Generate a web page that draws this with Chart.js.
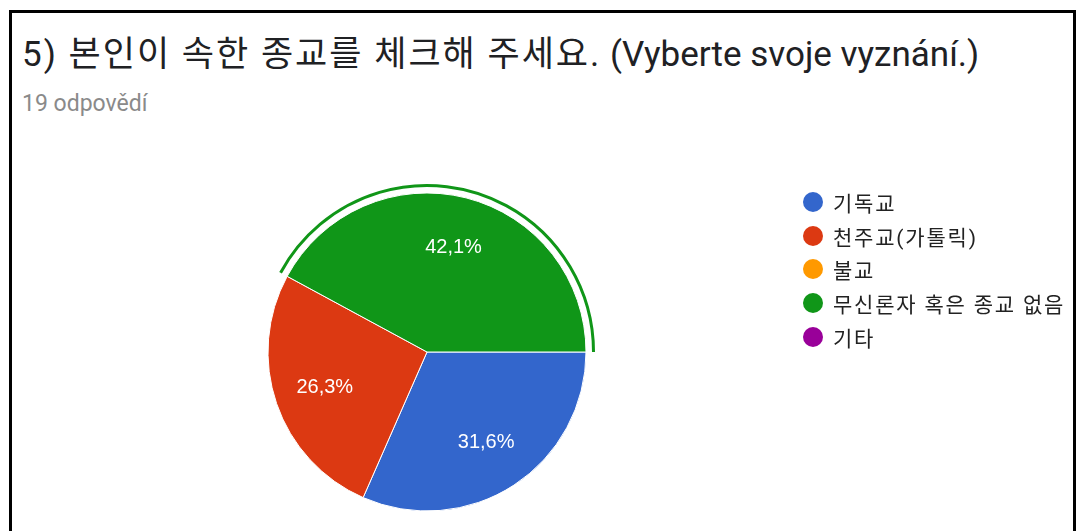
<!DOCTYPE html>
<html>
<head>
<meta charset="utf-8">
<script src="https://cdn.jsdelivr.net/npm/chart.js@4.4.1/dist/chart.umd.min.js"></script>
<style>
  html, body { margin: 0; padding: 0; background: #fff; overflow: hidden; }
  body { width: 1079px; height: 531px; position: relative; font-family: Roboto, "Noto Sans CJK KR", sans-serif; }
  .frame { position: absolute; left: 9px; top: 10px; width: 1067px; height: 600px; border: 3px solid #000; border-bottom: none; box-sizing: border-box; }
  .title { position: absolute; left: 22px; top: 36px; font-size: 35px; line-height: 38px; color: #202124; white-space: nowrap; }
  .title .ko { letter-spacing: 2px; }
  .count { position: absolute; left: 22px; top: 92px; font-size: 23px; line-height: 24px; color: #8a8a8a; white-space: nowrap; }
  #chart { position: absolute; left: 0; top: 0; }
  .legend { position: absolute; left: 803px; top: 185px; margin: 0; padding: 0; list-style: none; }
  .legend li { display: flex; align-items: center; height: 33.75px; font-size: 21px; letter-spacing: 1.8px; color: #222; white-space: nowrap; }
  .legend .dot { width: 20px; height: 20px; border-radius: 50%; margin-right: 10px; }
</style>
</head>
<body>
<div class="frame"></div>
<div class="title"><span class="ko">5) 본인이 속한 종교를 체크해 주세요.</span> (Vyberte svoje vyznání.)</div>
<div class="count">19 odpovědí</div>
<canvas id="chart" width="1079" height="531"></canvas>
<ul class="legend" id="legend"></ul>
<script>
const labels = ['기독교', '천주교(가톨릭)', '불교', '무신론자 혹은 종교 없음', '기타'];
const counts = [6, 5, 0, 8, 0];
const percents = ['31,6%', '26,3%', '0%', '42,1%', '0%'];
const colors = ['#3366cc', '#dc3912', '#ff9900', '#109618', '#990099'];
const selected = 3;

// percentage labels inside the slices
const sliceLabels = {
  id: 'sliceLabels',
  afterDatasetsDraw(chart) {
    const ctx = chart.ctx;
    const meta = chart.getDatasetMeta(0);
    ctx.save();
    ctx.fillStyle = '#fff';
    ctx.font = '20px "Liberation Sans", Arial, sans-serif';
    ctx.textAlign = 'center';
    ctx.textBaseline = 'middle';
    meta.data.forEach((arc, i) => {
      if (!counts[i]) return;
      const mid = (arc.startAngle + arc.endAngle) / 2;
      const r = arc.outerRadius * 0.68;
      ctx.fillText(percents[i], arc.x + Math.cos(mid) * r, arc.y + Math.sin(mid) * r);
    });
    ctx.restore();
  }
};

// outline arc around the selected slice
const selectedRing = {
  id: 'selectedRing',
  afterDatasetsDraw(chart) {
    const arc = chart.getDatasetMeta(0).data[selected];
    const ctx = chart.ctx;
    ctx.save();
    ctx.strokeStyle = colors[selected];
    ctx.lineWidth = 3;
    ctx.beginPath();
    ctx.arc(arc.x, arc.y, arc.outerRadius + 7.5, arc.startAngle, arc.endAngle);
    ctx.stroke();
    ctx.restore();
  }
};

const chart = new Chart(document.getElementById('chart'), {
  type: 'pie',
  data: {
    labels: labels,
    datasets: [
      {
        data: counts,
        backgroundColor: colors,
        borderColor: '#fff',
        borderWidth: 1,
      },
    ],
  },
  options: {
    responsive: false,
    animation: false,
    events: [],
    rotation: 90,
    radius: 159,
    layout: { padding: { left: 0, right: 225, top: 173, bottom: 0 } },
    plugins: {
      legend: { display: false },
      tooltip: { enabled: false },
    },
  },
  plugins: [sliceLabels, selectedRing],
});

const legendList = document.getElementById('legend');
chart.options.plugins.legend.labels.generateLabels(chart).forEach((item) => {
  const li = document.createElement('li');
  const dot = document.createElement('span');
  dot.className = 'dot';
  dot.style.background = item.fillStyle;
  li.appendChild(dot);
  li.appendChild(document.createTextNode(item.text));
  legendList.appendChild(li);
});
</script>
</body>
</html>
